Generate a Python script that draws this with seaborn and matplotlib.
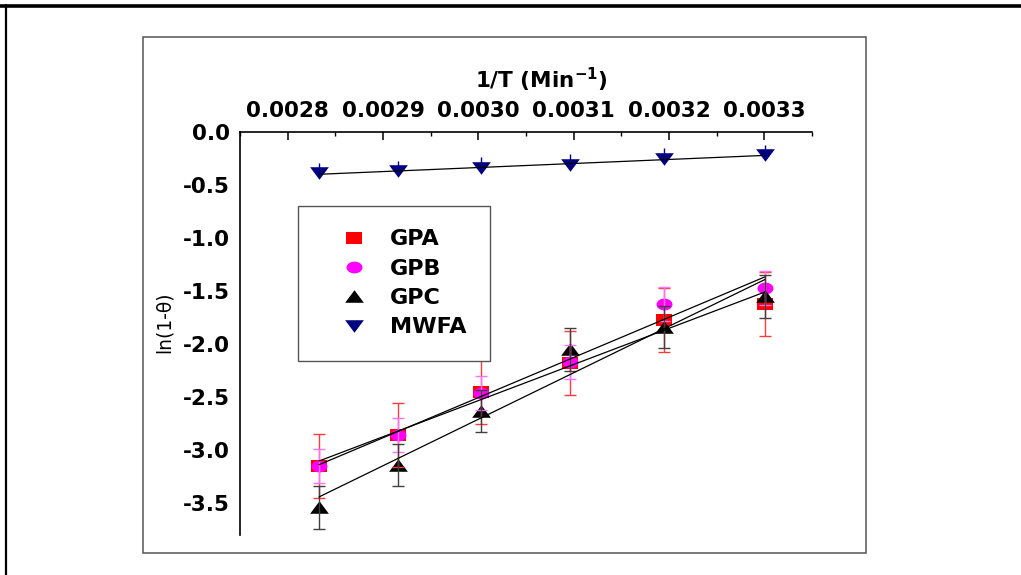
import numpy as np
import pandas as pd
import matplotlib
matplotlib.use("Agg")
import matplotlib.pyplot as plt
from matplotlib.ticker import AutoMinorLocator, FixedLocator
from matplotlib.lines import Line2D
from matplotlib.patches import Rectangle
import seaborn as sns

# ---------------- data ----------------
temperatures_K = [353, 343, 333, 323, 313, 303]
inv_T = [1.0 / t for t in temperatures_K]
gpa = [-3.15, -2.86, -2.45, -2.18, -1.77, -1.62]
gpb = [-3.15, -2.86, -2.46, -2.17, -1.62, -1.47]
gpc = [-3.54, -3.14, -2.63, -2.05, -1.84, -1.55]
mwfa = [-0.39, -0.37, -0.34, -0.31, -0.25, -0.22]
gpa_err = [0.30, 0.30, 0.30, 0.30, 0.30, 0.30]
gpb_err = [0.16, 0.16, 0.16, 0.16, 0.16, 0.16]
gpc_err = [0.20, 0.20, 0.20, 0.20, 0.20, 0.20]
mwfa_err = [0.10, 0.10, 0.10, 0.10, 0.10, 0.10]
series_names = ["GPA", "GPB", "GPC", "MWFA"]
x_ticks = [0.0028, 0.0029, 0.0030, 0.0031, 0.0032, 0.0033]
y_ticks = [0.0, -0.5, -1.0, -1.5, -2.0, -2.5, -3.0, -3.5]

# ---------------- style ----------------
sns.set_style("white")
plt.rcParams["font.family"] = ["DejaVu Sans"]
plt.rcParams["axes.unicode_minus"] = False
plt.rcParams["text.color"] = "black"
plt.rcParams["axes.labelcolor"] = "black"
plt.rcParams["xtick.color"] = "black"
plt.rcParams["ytick.color"] = "black"

W, H = 1021, 575
fig = plt.figure(figsize=(W / 100, H / 100), dpi=100)
fig.patch.set_facecolor("white")

# decorative page frame
fig.add_artist(Line2D([0, 1], [1 - 6 / H] * 2, color="black", lw=2.6,
                      transform=fig.transFigure))
fig.add_artist(Line2D([6 / W] * 2, [0, 1 - 5 / H], color="black", lw=1.6,
                      transform=fig.transFigure))
fig.add_artist(Rectangle((143 / W, 1 - 553 / H), (866 - 143) / W, (553 - 37) / H,
                         fill=False, edgecolor="#555555", lw=1.1,
                         transform=fig.transFigure))

ax = fig.add_axes([240 / W, 1 - 535 / H, 572 / W, 403 / H])
ax.set_facecolor("white")

# custom Origin-like markers
sq = [(-1, -0.75), (1, -0.75), (1, 0.75), (-1, 0.75), (-1, -0.75)]
th = np.linspace(0, 2 * np.pi, 40)
ell = [(np.cos(t), 0.74 * np.sin(t)) for t in th]
tri_up = [(-1, -0.67), (1, -0.67), (0, 0.67), (-1, -0.67)]
tri_dn = [(-1, 0.67), (1, 0.67), (0, -0.67), (-1, 0.67)]

specs = [
    ("GPA", gpa, gpa_err, "#FF0000", sq, 11.0, "#FF3a3a"),
    ("GPB", gpb, gpb_err, "#FF00FF", ell, 11.5, "#FF70FF"),
    ("GPC", gpc, gpc_err, "#000000", tri_up, 13.5, "#404040"),
    ("MWFA", mwfa, mwfa_err, "#000080", tri_dn, 13.5, "#000080"),
]

handles = []
for name, yv, ev, col, mk, ms, ecol in specs:
    df = pd.DataFrame({"x": inv_T, "y": yv})
    before = len(ax.collections)
    sns.scatterplot(data=df, x="x", y="y", ax=ax, marker=mk, s=ms ** 2,
                    color=col, edgecolor=col, linewidth=0, label=name,
                    zorder=2, legend=False)
    handles.append(ax.collections[before])
    if name == "MWFA":
        ax.errorbar(inv_T, yv, yerr=[[0] * len(ev), ev], fmt="none",
                    ecolor=ecol, elinewidth=1.0, capsize=0, zorder=3)
    else:
        ax.errorbar(inv_T, yv, yerr=ev, fmt="none", ecolor=ecol,
                    elinewidth=1.0, capsize=4, capthick=1.0, zorder=3)
    sns.regplot(data=df, x="x", y="y", ax=ax, scatter=False, ci=None,
                truncate=True, color="black",
                line_kws={"lw": 0.9, "zorder": 4})

# ---------------- axes ----------------
ax.set_xlim(0.00275, 0.00335)
ax.set_ylim(-3.8, 0.0)
ax.xaxis.tick_top()
ax.xaxis.set_label_position("top")
ax.xaxis.set_major_locator(FixedLocator(x_ticks))
ax.yaxis.set_major_locator(FixedLocator(y_ticks))
ax.xaxis.set_minor_locator(AutoMinorLocator(2))
ax.yaxis.set_minor_locator(AutoMinorLocator(2))
ax.set_xticklabels([f"{v:.4f}" for v in x_ticks])
ax.set_yticklabels([f"{v:.1f}" for v in y_ticks])

for s in ["right", "bottom"]:
    ax.spines[s].set_visible(False)
for s in ["top", "left"]:
    ax.spines[s].set_visible(True)
    ax.spines[s].set_color("black")
    ax.spines[s].set_linewidth(1.2)

ax.tick_params(axis="x", which="major", direction="in", length=5.5, width=1.1,
               pad=8, labelsize=15.5, colors="black")
ax.tick_params(axis="x", which="minor", direction="in", length=3, width=1.0)
ax.tick_params(axis="y", which="major", direction="out", length=4.5, width=1.1,
               pad=3, labelsize=15.5, colors="black")
ax.tick_params(axis="y", which="minor", direction="out", length=3, width=1.0)
for lab in ax.get_xticklabels() + ax.get_yticklabels():
    lab.set_fontweight("bold")

ax.set_xlabel("1/T (Min$^{\\mathbf{-1}}$)", fontsize=15.5, fontweight="bold",
              color="black")
ax.xaxis.set_label_coords((541 - 240) / 572, (535 - 88) / 403)
ax.set_ylabel("ln(1-θ)", fontsize=13.5, color="black")
ax.yaxis.set_label_coords((174 - 240) / 572, (535 - 322) / 403)

leg = ax.legend(handles, series_names, loc="upper left",
                bbox_to_anchor=(298 / W, 1 - 206 / H),
                bbox_transform=fig.transFigure, borderaxespad=0,
                frameon=True, fancybox=False,
                edgecolor="#555555", framealpha=1, borderpad=1.05,
                handlelength=2.9, handletextpad=0.2, labelspacing=0.42,
                scatterpoints=1, scatteryoffsets=[0.5],
                prop={"weight": "bold", "size": 16})
leg.get_frame().set_linewidth(1.0)
for t in leg.get_texts():
    t.set_color("black")

fig.savefig("out.png", dpi=100, facecolor="white")
